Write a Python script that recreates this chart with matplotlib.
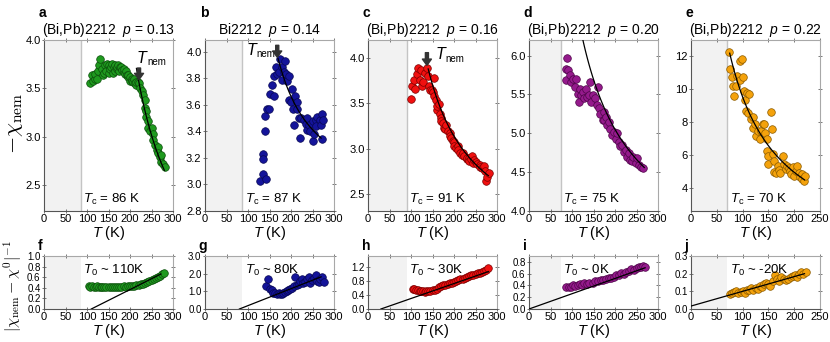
import numpy as np
import matplotlib
matplotlib.use("Agg")
import matplotlib.pyplot as plt
from matplotlib.transforms import offset_copy

plt.rcParams["font.family"] = ["Liberation Sans", "DejaVu Sans"]
plt.rcParams["mathtext.fontset"] = "custom"
plt.rcParams["mathtext.rm"] = "Liberation Sans"
plt.rcParams["mathtext.it"] = "Liberation Sans:italic"
plt.rcParams["mathtext.bf"] = "Liberation Sans:bold"

# ---- panel labels / sample info
letters_top = ["a", "b", "c", "d", "e"]
letters_bot = ["f", "g", "h", "i", "j"]
samples = ["(Bi,Pb)2212", "Bi2212", "(Bi,Pb)2212", "(Bi,Pb)2212", "(Bi,Pb)2212"]
dopings = ["0.13", "0.14", "0.16", "0.20", "0.22"]
Tc_vals = [86, 87, 91, 75, 70]
T0_vals = [110, 80, 30, 0, -20]
colors = ["#1f9a1f", "#14149a", "#f01010", "#951a8c", "#f4a20c"]
edges = ["#0b4d0b", "#070752", "#7a0000", "#4d0548", "#8a5a00"]

# Curie-Weiss fit in top row: -chi = chi0 + C/(T - T0)
C_vals = [290, 102.6, 231.8, 386, 1211]
chi0_vals = [0.944, 2.81, 1.773, 3.12, -0.55]
fit_start = [215, 170, 140, 115, 75]
fit_end = [280, 270, 280, 268, 220]
# straight lines in bottom row: from T0 to (line_end_T, line_end_val)
line_end_T = [272, 270, 280, 270, 220]
line_end_val = [0.66, 1.82, 1.06, 0.70, 0.20]

# T_nem arrows and labels
Tnem_T = [221, 168, 137]
Tnem_top = [3.71, 4.05, 4.06]
Tnem_tip = [3.59, 3.96, 3.92]
Tnem_lab_x = [216, 96, 156]
Tnem_lab_y = [3.76, 3.975, 3.985]

# ---- top row data (-chi_nem)
T_a = [108, 111, 115, 118, 119, 123, 125, 127, 131, 135, 138, 140, 142, 145, 146, 150, 150, 154, 155,
       158, 160, 162, 165, 165, 169, 170, 173, 175, 177, 180, 181, 185, 185, 188, 190, 192, 195, 196,
       200, 200, 204, 205, 208, 210, 212, 215, 215, 219, 220, 223, 227, 231, 235, 235, 238, 238, 242,
       242, 246, 250, 254, 254, 258, 262, 265, 265, 269, 273, 273, 277, 281]
chi_a = [3.55, 3.64, 3.58, 3.60, 3.65, 3.60, 3.68, 3.74, 3.80, 3.70, 3.64, 3.66, 3.74, 3.68, 3.75, 3.74,
         3.66, 3.70, 3.72, 3.75, 3.66, 3.72, 3.74, 3.68, 3.70, 3.72, 3.74, 3.68, 3.72, 3.72, 3.69, 3.67,
         3.70, 3.65, 3.68, 3.64, 3.62, 3.64, 3.58, 3.62, 3.60, 3.58, 3.57, 3.60, 3.55, 3.53, 3.57, 3.57,
         3.55, 3.50, 3.47, 3.43, 3.38, 3.30, 3.26, 3.20, 3.16, 3.09, 3.06, 3.09, 3.03, 2.96, 2.91, 2.86,
         2.89, 2.83, 2.79, 2.74, 2.81, 2.72, 2.69]

T_b = [127, 134, 143, 135, 136, 139, 140, 144, 148, 150, 156, 160, 160, 164, 167, 171, 175, 179, 179,
       183, 187, 189, 191, 195, 195, 199, 203, 205, 206, 210, 214, 214, 218, 222, 224, 230, 234, 238,
       238, 241, 245, 250, 252, 253, 257, 259, 261, 267, 269, 271, 273, 275]
chi_b = [3.03, 3.08, 3.04, 3.23, 3.19, 3.40, 3.52, 3.57, 3.57, 3.68, 3.75, 3.67, 3.82, 3.89, 3.83, 3.85,
         3.95, 3.79, 3.89, 3.85, 3.93, 3.83, 3.78, 3.82, 3.64, 3.62, 3.72, 3.57, 3.45, 3.67, 3.62, 3.57,
         3.50, 3.35, 3.50, 3.49, 3.46, 3.50, 3.41, 3.45, 3.40, 3.48, 3.33, 3.38, 3.49, 3.44, 3.51, 3.49,
         3.45, 3.53, 3.34, 3.49]

T_c = [100, 102, 106, 110, 114, 116, 120, 123, 126, 129, 133, 137, 139, 141, 145, 149, 150, 153, 154,
       157, 160, 160, 164, 167, 170, 170, 174, 177, 180, 182, 185, 190, 190, 193, 198, 200, 201, 205,
       209, 210, 213, 219, 220, 224, 230, 230, 235, 236, 240, 242, 245, 247, 250, 253, 260, 260, 265,
       269, 273, 274, 277, 281]
chi_c = [3.55, 3.69, 3.76, 3.66, 3.82, 3.89, 3.76, 3.87, 3.69, 3.74, 3.83, 3.89, 3.80, 3.69, 3.65, 3.65,
         3.62, 3.58, 3.78, 3.54, 3.43, 3.47, 3.49, 3.38, 3.34, 3.30, 3.28, 3.23, 3.22, 3.26, 3.19, 3.17,
         3.14, 3.12, 3.08, 3.07, 3.03, 3.01, 3.03, 2.98, 2.95, 2.93, 2.95, 2.92, 2.89, 2.90, 2.90, 2.86,
         2.88, 2.92, 2.84, 2.87, 2.85, 2.83, 2.82, 2.80, 2.79, 2.81, 2.75, 2.64, 2.69, 2.73]

T_d = [85, 85, 88, 91, 95, 98, 102, 106, 110, 114, 116, 118, 122, 126, 129, 133, 135, 140, 141, 145,
       149, 153, 157, 160, 163, 166, 171, 174, 174, 178, 181, 186, 189, 194, 197, 202, 205, 209, 212,
       217, 220, 225, 228, 233, 236, 240, 243, 248, 251, 256, 261, 265]
chi_d = [5.68, 5.83, 5.97, 5.82, 5.75, 5.66, 5.70, 5.60, 5.70, 5.51, 5.40, 5.57, 5.49, 5.53, 5.45, 5.57,
         5.47, 5.49, 5.66, 5.40, 5.49, 5.45, 5.36, 5.60, 5.32, 5.25, 5.17, 5.28, 5.17, 5.21, 5.11, 5.15,
         5.06, 4.98, 5.02, 4.93, 5.00, 4.89, 4.83, 4.85, 4.76, 4.79, 4.70, 4.74, 4.66, 4.64, 4.70, 4.62,
         4.68, 4.59, 4.57, 4.55]

T_e = [74, 76, 79, 82, 84, 88, 90, 94, 95, 99, 100, 103, 105, 108, 113, 107, 111, 116, 120, 121, 124,
       126, 129, 133, 135, 139, 142, 144, 147, 148, 150, 150, 155, 157, 158, 160, 161, 165, 169, 170,
       173, 179, 180, 184, 187, 190, 191, 193, 197, 200, 204, 206, 210, 211, 215, 216, 219, 221]
chi_e = [12.26, 11.23, 10.75, 10.23, 9.58, 10.23, 10.83, 10.59, 11.70, 11.84, 10.75, 9.88, 9.38, 9.78,
         9.74, 8.67, 8.57, 8.17, 8.33, 7.67, 7.87, 7.16, 7.46, 6.96, 7.46, 7.87, 7.87, 7.36, 7.00, 6.25,
         5.95, 5.45, 8.61, 7.60, 6.05, 5.00, 5.65, 4.94, 5.35, 5.10, 4.94, 5.95, 5.45, 5.14, 5.35, 5.20,
         5.04, 4.84, 5.25, 4.74, 5.04, 5.35, 4.94, 4.64, 4.84, 4.54, 4.44, 4.74]

# ---- bottom row data (|chi_nem - chi0|^-1)
T_f = [105, 108, 112, 116, 120, 124, 128, 132, 136, 140, 145, 150, 155, 160, 165, 170, 175, 180, 185,
       190, 195, 200, 205, 210, 215, 220, 225, 230, 235, 240, 245, 250, 255, 260, 265, 270, 275, 280]
inv_f = [0.43, 0.41, 0.43, 0.42, 0.41, 0.43, 0.42, 0.41, 0.42, 0.41, 0.42, 0.41, 0.42, 0.41, 0.42, 0.41,
         0.42, 0.42, 0.43, 0.42, 0.43, 0.43, 0.44, 0.44, 0.45, 0.46, 0.47, 0.48, 0.50, 0.51, 0.53, 0.55,
         0.57, 0.59, 0.61, 0.63, 0.66, 0.68]

T_g = [143, 147, 151, 155, 159, 163, 167, 171, 175, 179, 182, 186, 190, 194, 198, 202, 206, 210, 214,
       218, 222, 225, 229, 233, 237, 241, 245, 249, 253, 257, 261, 265, 268, 272, 276]
inv_g = [1.32, 1.72, 1.12, 1.05, 0.93, 0.90, 0.86, 0.88, 0.83, 0.86, 0.93, 0.98, 1.03, 1.08, 1.12, 1.20,
         1.32, 1.81, 1.36, 1.42, 1.60, 1.72, 1.45, 1.52, 1.70, 1.81, 1.50, 1.62, 1.75, 1.91, 1.60, 1.52,
         1.70, 1.81, 1.52]

T_h = [104, 108, 112, 116, 120, 124, 128, 132, 136, 140, 145, 150, 155, 160, 165, 170, 175, 180, 185,
       190, 195, 200, 205, 210, 215, 220, 225, 230, 235, 240, 245, 250, 255, 260, 265, 270, 275, 279]
inv_h = [0.58, 0.56, 0.54, 0.53, 0.51, 0.50, 0.50, 0.49, 0.50, 0.51, 0.51, 0.53, 0.55, 0.58, 0.62, 0.65,
         0.67, 0.69, 0.71, 0.73, 0.75, 0.77, 0.80, 0.82, 0.84, 0.86, 0.88, 0.90, 0.92, 0.95, 0.97, 0.99,
         1.01, 1.03, 1.05, 1.07, 1.10, 1.15]

T_i = [86, 92, 97, 103, 108, 113, 118, 124, 129, 134, 140, 148, 154, 160, 167, 173, 179, 185, 191, 197,
       203, 209, 214, 220, 226, 232, 238, 244, 250, 255, 261, 266, 270]
inv_i = [0.38, 0.37, 0.38, 0.40, 0.39, 0.41, 0.42, 0.41, 0.44, 0.43, 0.45, 0.44, 0.47, 0.48, 0.50, 0.49,
         0.51, 0.52, 0.53, 0.55, 0.57, 0.58, 0.61, 0.60, 0.63, 0.65, 0.68, 0.66, 0.69, 0.71, 0.72, 0.73,
         0.71]

T_j = [76, 80, 84, 88, 92, 96, 100, 104, 108, 112, 117, 121, 125, 129, 133, 137, 141, 146, 150, 154,
       159, 162, 167, 171, 175, 180, 184, 188, 193, 197, 201, 205, 210, 214, 218, 222]
inv_j = [0.085, 0.092, 0.095, 0.10, 0.088, 0.094, 0.10, 0.092, 0.105, 0.11, 0.12, 0.11, 0.12, 0.115,
         0.13, 0.125, 0.14, 0.15, 0.14, 0.13, 0.16, 0.19, 0.17, 0.16, 0.18, 0.17, 0.165, 0.17, 0.18,
         0.185, 0.19, 0.18, 0.20, 0.21, 0.20, 0.21]

top_T = [T_a, T_b, T_c, T_d, T_e]
top_chi = [chi_a, chi_b, chi_c, chi_d, chi_e]
bot_T = [T_f, T_g, T_h, T_i, T_j]
bot_inv = [inv_f, inv_g, inv_h, inv_i, inv_j]

top_ylim = [(2.23, 4.0), (2.8, 4.09), (2.31, 4.2), (4.0, 6.2), (2.6, 13.0)]
top_yticks = [[2.5, 3.0, 3.5, 4.0], [2.8, 3.0, 3.2, 3.4, 3.6, 3.8, 4.0], [2.5, 3.0, 3.5, 4.0],
              [4.0, 4.5, 5.0, 5.5, 6.0], [4, 6, 8, 10, 12]]
bot_ylim = [(0, 1.0), (0, 3.0), (0, 1.5), (0, 0.9), (0, 0.3)]
bot_yticks = [[0.0, 0.2, 0.4, 0.6, 0.8, 1.0], [0.0, 1.0, 2.0, 3.0], [0.0, 0.4, 0.8, 1.2],
              [0.0, 0.2, 0.4, 0.6, 0.8], [0.0, 0.1, 0.2, 0.3]]
xmax = [300, 300, 300, 300, 250]

W, H = 830, 342
fig = plt.figure(figsize=(W / 100, H / 100), dpi=100)
lefts = [44, 205, 368, 529, 691]
aw = 129


def style(ax, xm):
    ax.set_xlim(0, xm)
    ax.set_xticks(np.arange(0, xm + 1, 50))
    for s in ["top", "right"]:
        ax.spines[s].set_color("#a8a8a8")
    for s in ["left", "bottom"]:
        ax.spines[s].set_color("#555555")
    for s in ax.spines.values():
        s.set_linewidth(0.8)
    ax.tick_params(direction="inout", length=3, width=0.7, color="#777777", labelsize=8,
                   pad=1, top=True, right=True)


for k in range(5):
    # top row
    ax = fig.add_axes([lefts[k] / W, 1 - 211 / H, aw / W, 171 / H])
    style(ax, xmax[k])
    ax.axvspan(0, Tc_vals[k], color="#f2f2f2", lw=0, zorder=0)
    ax.axvline(Tc_vals[k], color="#c4c4c4", lw=1, zorder=1)
    ax.scatter(top_T[k], top_chi[k], s=30, c=colors[k], edgecolors=edges[k], linewidths=0.5, zorder=3)
    tt = np.linspace(fit_start[k], fit_end[k], 80)
    ax.plot(tt, chi0_vals[k] + C_vals[k] / (tt - T0_vals[k]), color="black", lw=0.9, zorder=4)
    ax.set_ylim(*top_ylim[k])
    ax.set_yticks(top_yticks[k])
    if k < 4:
        ax.set_yticklabels(["%.1f" % v for v in top_yticks[k]])
    ax.set_xlabel(r"$T$ (K)", fontsize=10.5, labelpad=0)
    ax.set_title(samples[k] + r"  $p$ = " + dopings[k], fontsize=10, pad=4)
    ax.text(-0.04, 1.2, letters_top[k], transform=ax.transAxes, fontsize=10, fontweight="bold",
            va="top")
    ax.text(Tc_vals[k] + 5, top_ylim[k][0] + 0.025 * (top_ylim[k][1] - top_ylim[k][0]),
            r"$T_{\rm c}$ = %d K" % Tc_vals[k], fontsize=9.5, va="bottom")
    if k < 3:
        ax.annotate("", xy=(Tnem_T[k], Tnem_tip[k]), xytext=(Tnem_T[k], Tnem_top[k]),
                    arrowprops=dict(width=2.2, headwidth=6.5, headlength=4.5, color="#333333",
                                    shrink=0), zorder=5)
        ax.text(Tnem_lab_x[k], Tnem_lab_y[k], "T", fontsize=11.5, style="italic",
                va="baseline", ha="left")
        ax.text(Tnem_lab_x[k], Tnem_lab_y[k], "nem", fontsize=7, va="baseline", ha="left",
                transform=offset_copy(ax.transData, fig=fig, x=7.5, y=-1.5, units="points"))

    # bottom row
    bx = fig.add_axes([lefts[k] / W, 1 - 309 / H, aw / W, 53 / H])
    style(bx, xmax[k])
    bx.tick_params(axis="y", labelsize=7)
    bx.axvspan(0, Tc_vals[k], color="#f2f2f2", lw=0, zorder=0)
    bx.scatter(bot_T[k], bot_inv[k], s=30, c=colors[k], edgecolors=edges[k], linewidths=0.5, zorder=3)
    t0 = max(T0_vals[k], 0)
    slope = line_end_val[k] / (line_end_T[k] - T0_vals[k])
    tl = np.array([t0, line_end_T[k]])
    bx.plot(tl, slope * (tl - T0_vals[k]), color="black", lw=0.9, zorder=4)
    bx.set_ylim(*bot_ylim[k])
    bx.set_yticks(bot_yticks[k])
    bx.set_yticklabels(["%.1f" % v for v in bot_yticks[k]])
    bx.set_xlabel(r"$T$ (K)", fontsize=10.5, labelpad=0)
    bx.text(-0.05, 1.32, letters_bot[k], transform=bx.transAxes, fontsize=10, fontweight="bold",
            va="top")
    bx.text(Tc_vals[k] + 5, bot_ylim[k][1] * 0.72, r"$T_0$ ~ %dK" % T0_vals[k], fontsize=9.5,
            va="center")

fig.text(0.017, 0.64, r"$-\chi_{\rm nem}$", rotation=90, fontsize=16, ha="center", va="center",
         math_fontfamily="cm")
fig.text(0.015, 0.165, r"$|\chi_{\rm nem}-\chi^0|^{-1}$", rotation=90, fontsize=11.5, ha="center",
         va="center", math_fontfamily="cm")

fig.savefig("out.png", dpi=100)
